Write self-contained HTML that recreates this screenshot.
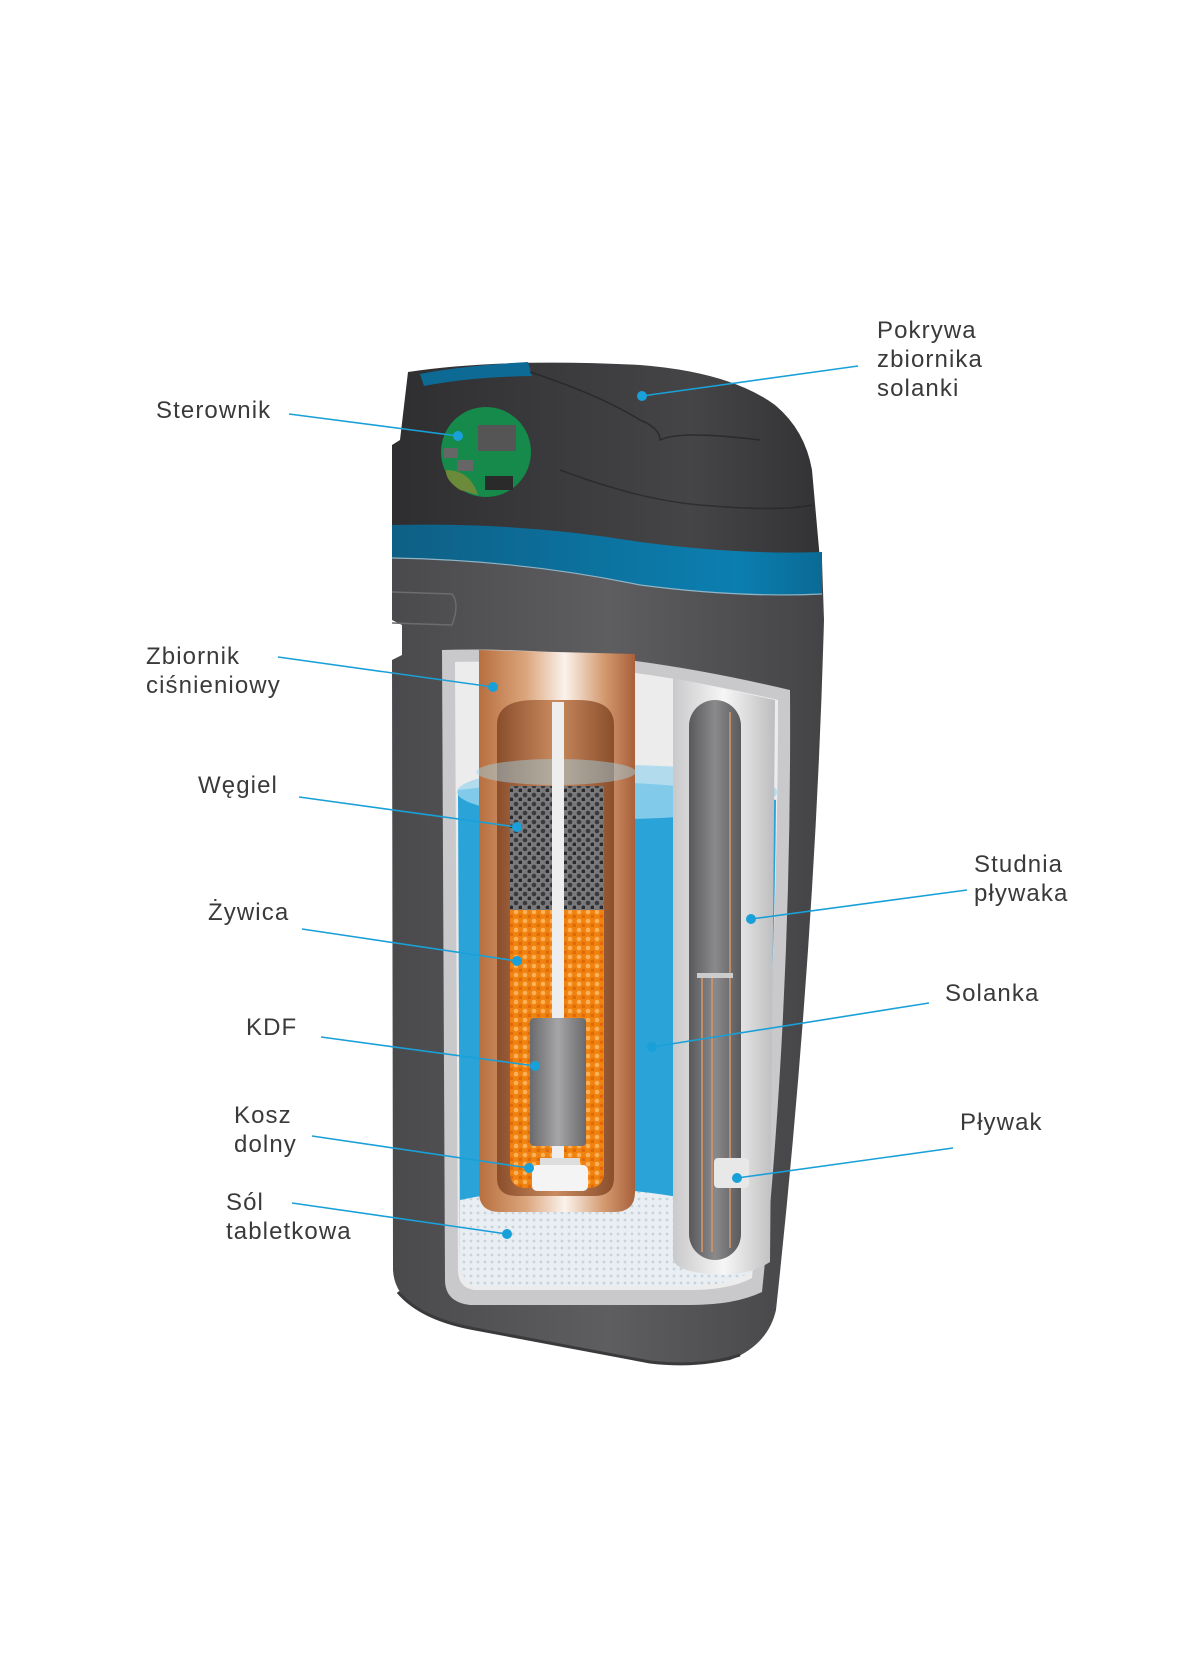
<!DOCTYPE html>
<html><head><meta charset="utf-8"><style>
html,body{margin:0;padding:0;background:#fff;}
svg{display:block}
text{font-family:"Liberation Sans",sans-serif;font-size:24px;fill:#3a3a3a;letter-spacing:1.1px}
</style></head><body>
<svg width="1184" height="1680" viewBox="0 0 1184 1680" xmlns="http://www.w3.org/2000/svg">
<defs>
<linearGradient id="body" x1="0" x2="1" y1="0" y2="0">
<stop offset="0" stop-color="#4a4a4c"/><stop offset="0.5" stop-color="#5e5e60"/><stop offset="1" stop-color="#444446"/></linearGradient>
<linearGradient id="cap" x1="0" x2="1" y1="0" y2="0">
<stop offset="0" stop-color="#2e2e30"/><stop offset="0.7" stop-color="#454547"/><stop offset="1" stop-color="#333335"/></linearGradient>
<linearGradient id="copper" x1="0" x2="1" y1="0" y2="0">
<stop offset="0" stop-color="#b86f3f"/><stop offset="0.3" stop-color="#dba57c"/><stop offset="0.55" stop-color="#fbf3ec"/><stop offset="0.8" stop-color="#d49a70"/><stop offset="1" stop-color="#a8603a"/></linearGradient>
<linearGradient id="copin" x1="0" x2="1" y1="0" y2="0">
<stop offset="0" stop-color="#8a4e2c"/><stop offset="0.5" stop-color="#c98a5e"/><stop offset="1" stop-color="#8a4e2c"/></linearGradient>
<linearGradient id="well" x1="0" x2="1" y1="0" y2="0">
<stop offset="0" stop-color="#c9c9cb"/><stop offset="0.5" stop-color="#f6f6f6"/><stop offset="1" stop-color="#bdbdbf"/></linearGradient>
<linearGradient id="welli" x1="0" x2="1" y1="0" y2="0">
<stop offset="0" stop-color="#5a5a5c"/><stop offset="0.5" stop-color="#8a8a8c"/><stop offset="1" stop-color="#5a5a5c"/></linearGradient>
<linearGradient id="kdf" x1="0" x2="1" y1="0" y2="0">
<stop offset="0" stop-color="#6a6a6c"/><stop offset="0.5" stop-color="#a5a5a7"/><stop offset="1" stop-color="#6a6a6c"/></linearGradient>
<linearGradient id="band" x1="0" x2="1" y1="0" y2="0">
<stop offset="0" stop-color="#0e5f85"/><stop offset="0.8" stop-color="#0b7fb0"/><stop offset="1" stop-color="#0a6a96"/></linearGradient>
<pattern id="dots" width="9" height="9" patternUnits="userSpaceOnUse">
<rect width="9" height="9" fill="#f0820f"/><circle cx="3" cy="3" r="2.3" fill="#fbb15a"/><circle cx="7.5" cy="7.5" r="2" fill="#e06a08"/></pattern>
<pattern id="coal" width="9" height="9" patternUnits="userSpaceOnUse">
<rect width="9" height="9" fill="#7a7a7c"/><circle cx="3" cy="3" r="2.3" fill="#3a3a3c"/><circle cx="7.5" cy="7.5" r="2" fill="#2a2a2c"/></pattern>
<pattern id="salt" width="7" height="7" patternUnits="userSpaceOnUse">
<rect width="7" height="7" fill="#e8eef2"/><circle cx="2" cy="2" r="1.4" fill="#c8d2da"/></pattern>
</defs>

<path d="M392,540 L822,560 L824,620 Q815,950 776,1310 Q768,1345 730,1360 Q690,1368 650,1362 L460,1325 Q395,1310 393,1270 L392,660 L402,655 L402,625 L392,620 Z" fill="url(#body)"/>
<path d="M398,1292 Q420,1318 470,1328 L650,1362 Q700,1368 740,1355" fill="none" stroke="#3a3a3c" stroke-width="3"/>
<path d="M408,372 Q500,358 640,365 Q730,372 775,405 Q805,430 812,470 L820,560 L392,530 L392,445 L400,440 Z" fill="url(#cap)"/>
<path d="M420,374 Q460,366 528,362 L532,376 Q470,377 424,386 Z" fill="#0d6a95"/>
<path d="M530,372 Q600,395 640,420 Q660,428 660,440 Q680,430 760,440" fill="none" stroke="#222" stroke-width="1.5" opacity="0.7"/>
<path d="M560,470 Q640,500 700,505 Q780,512 812,505" fill="none" stroke="#222" stroke-width="1.5" opacity="0.6"/>
<path d="M392,525 Q520,522 640,542 Q740,555 822,552 L822,594 Q740,598 640,585 Q520,560 392,558 Z" fill="url(#band)"/>
<path d="M392,558 Q520,560 640,585 Q740,598 822,594" fill="none" stroke="#8fb4c6" stroke-width="1.2"/>
<path d="M392,592 L452,594 Q460,604 452,625 L392,623" fill="none" stroke="#6c6c6e" stroke-width="1.5"/>

<path d="M442,650 Q600,645 790,690 Q792,1000 762,1292 Q735,1305 690,1305 L470,1305 Q445,1302 445,1280 Z" fill="#c9c9cb"/>
<path d="M455,662 Q600,658 778,700 Q778,1000 752,1278 Q730,1290 690,1290 L475,1290 Q458,1288 458,1270 Z" fill="#ececed"/>
<path d="M458,790 Q620,770 776,800 Q774,1050 754,1270 Q730,1285 690,1285 L470,1285 L460,1270 Z" fill="#2aa3d9"/>
<ellipse cx="617" cy="792" rx="160" ry="27" fill="#9fd7ee" opacity="0.75"/>
<path d="M460,1200 Q600,1170 756,1215 L754,1270 Q730,1286 690,1286 L470,1286 L460,1270 Z" fill="url(#salt)"/>
<path d="M479,650 L635,654 L635,1192 Q635,1212 614,1212 L500,1212 Q479,1212 479,1192 Z" fill="url(#copper)"/>
<path d="M497,725 Q497,700 535,700 L578,700 Q614,700 614,725 L614,1178 Q614,1196 594,1196 L517,1196 Q497,1196 497,1178 Z" fill="url(#copin)"/>
<rect x="510" y="786" width="94" height="124" fill="url(#coal)"/>
<path d="M510,910 L604,910 L604,1172 Q604,1188 588,1188 L526,1188 Q510,1188 510,1172 Z" fill="url(#dots)"/>
<ellipse cx="556" cy="772" rx="80" ry="13" fill="#9fd7ee" opacity="0.45"/>
<rect x="552" y="702" width="12" height="465" fill="#eeeeee"/>
<rect x="530" y="1018" width="56" height="128" rx="4" fill="url(#kdf)"/>
<rect x="540" y="1158" width="40" height="8" fill="#ddd"/>
<rect x="532" y="1165" width="56" height="26" rx="5" fill="#f4f4f4"/>
<path d="M673,678 L775,700 L770,1262 Q750,1275 720,1275 Q673,1272 673,1258 Z" fill="url(#well)"/>
<rect x="689" y="700" width="52" height="560" rx="26" fill="url(#welli)"/>
<line x1="730" y1="712" x2="730" y2="1248" stroke="#d89868" stroke-width="1.5"/>
<rect x="697" y="973" width="36" height="5" fill="#ccc"/>
<line x1="702" y1="978" x2="702" y2="1252" stroke="#d89868" stroke-width="1.5"/>
<line x1="712" y1="978" x2="712" y2="1252" stroke="#d89868" stroke-width="1.5"/>
<rect x="714" y="1158" width="35" height="30" rx="4" fill="#e8e8e8"/>

<circle cx="486" cy="452" r="45" fill="#158a4a"/>
<path d="M446,470 Q470,470 478,495 L460,490 Q445,480 446,470Z" fill="#6b8a3a"/>
<rect x="478" y="425" width="38" height="26" fill="#555"/>
<rect x="444" y="448" width="14" height="10" fill="#666"/>
<rect x="457" y="460" width="16" height="11" fill="#666"/>
<rect x="485" y="476" width="28" height="14" fill="#2a2a2a"/>

<g stroke="#1aa0d8" stroke-width="1.6" fill="none">
<line x1="289" y1="414" x2="458" y2="436"/>
<line x1="858" y1="366" x2="642" y2="396"/>
<line x1="278" y1="657" x2="493" y2="687"/>
<line x1="299" y1="797" x2="517" y2="827"/>
<line x1="302" y1="929" x2="517" y2="961"/>
<line x1="321" y1="1037" x2="535" y2="1066"/>
<line x1="312" y1="1136" x2="529" y2="1168"/>
<line x1="292" y1="1203" x2="507" y2="1234"/>
<line x1="967" y1="890" x2="751" y2="919"/>
<line x1="929" y1="1003" x2="652" y2="1047"/>
<line x1="953" y1="1148" x2="737" y2="1178"/>
</g>
<g fill="#1aa0d8">
<circle cx="458" cy="436" r="5"/><circle cx="642" cy="396" r="5"/><circle cx="493" cy="687" r="5"/>
<circle cx="517" cy="827" r="5"/><circle cx="517" cy="961" r="5"/><circle cx="535" cy="1066" r="5"/>
<circle cx="529" cy="1168" r="5"/><circle cx="507" cy="1234" r="5"/><circle cx="751" cy="919" r="5"/>
<circle cx="652" cy="1047" r="5"/><circle cx="737" cy="1178" r="5"/>
</g>

<text x="156" y="418">Sterownik</text>
<text x="877" y="338">Pokrywa</text>
<text x="877" y="367">zbiornika</text>
<text x="877" y="396">solanki</text>
<text x="146" y="664">Zbiornik</text>
<text x="146" y="693">ciśnieniowy</text>
<text x="198" y="793">Węgiel</text>
<text x="208" y="920">Żywica</text>
<text x="246" y="1035">KDF</text>
<text x="234" y="1123">Kosz</text>
<text x="234" y="1152">dolny</text>
<text x="226" y="1210">Sól</text>
<text x="226" y="1239">tabletkowa</text>
<text x="974" y="872">Studnia</text>
<text x="974" y="901">pływaka</text>
<text x="945" y="1001">Solanka</text>
<text x="960" y="1130">Pływak</text>
</svg>
</body></html>
